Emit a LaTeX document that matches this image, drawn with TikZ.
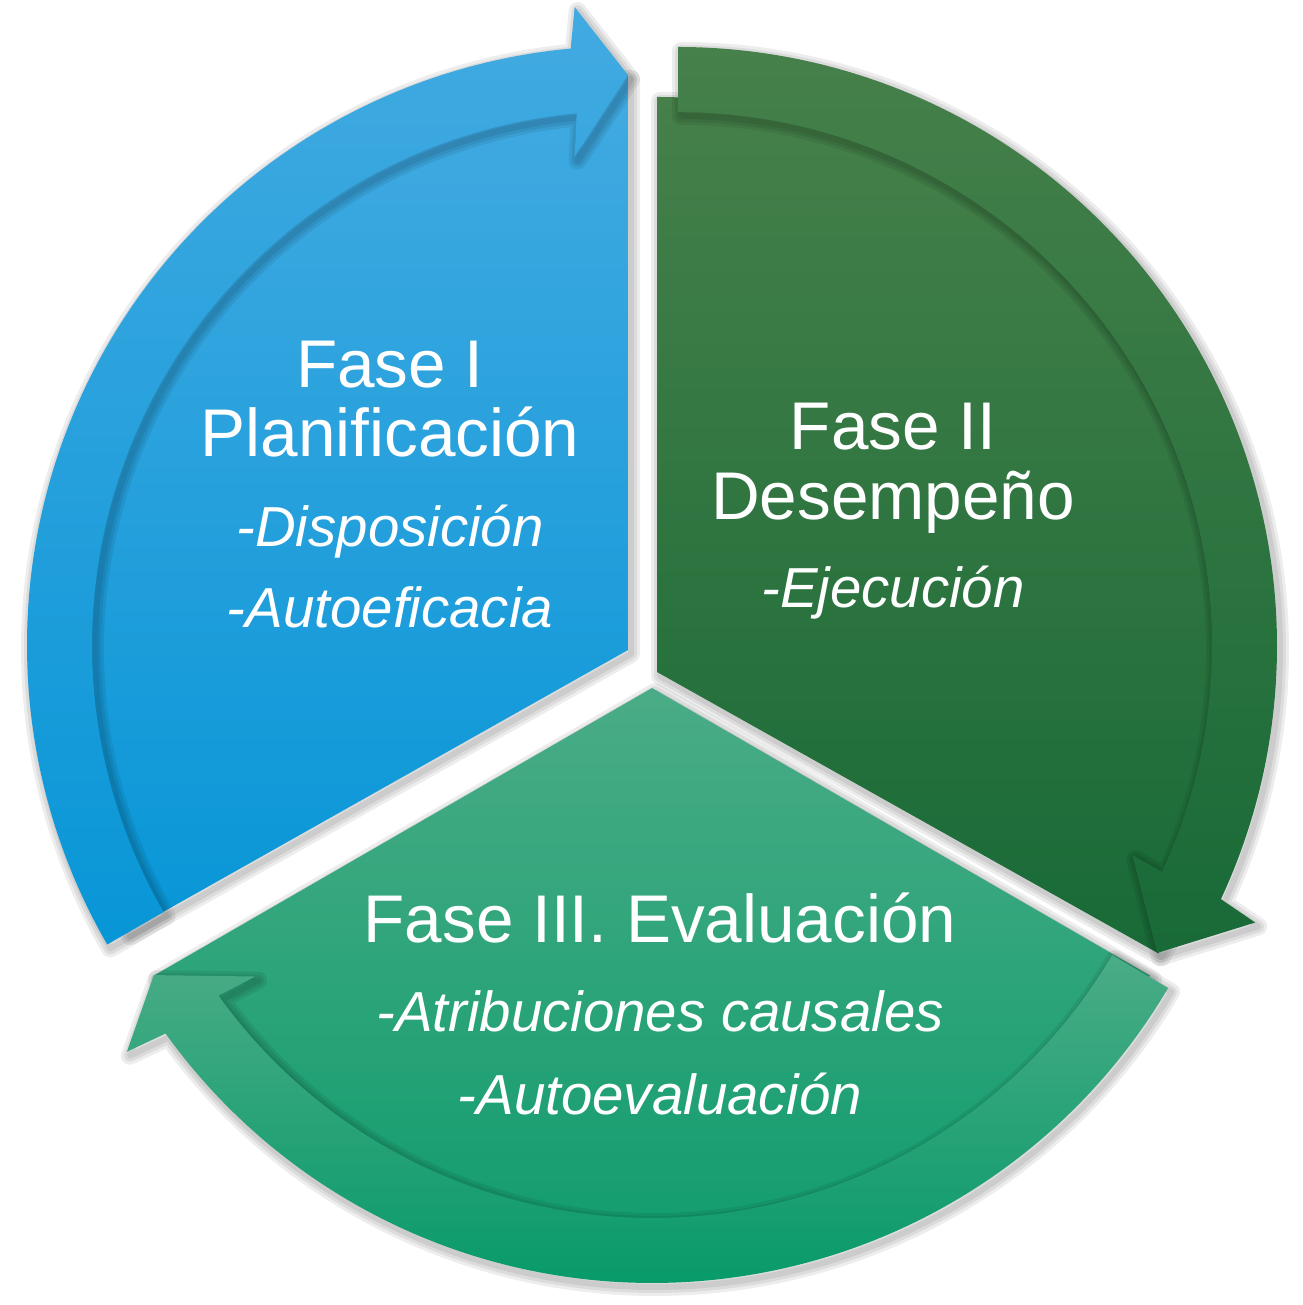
\documentclass[tikz,border=0pt]{standalone}
\usepackage{fontspec}
\setmainfont{Liberation Sans}
\definecolor{blueTop}{RGB}{66,170,225}
\definecolor{blueBot}{RGB}{8,150,215}
\definecolor{dgTop}{RGB}{70,128,74}
\definecolor{dgBot}{RGB}{24,106,55}
\definecolor{tlTop}{RGB}{74,172,134}
\definecolor{tlBot}{RGB}{8,154,106}
\begin{document}
\begin{tikzpicture}[x=0.02cm,y=0.02cm,
  ttl/.style={text=white, font=\fontsize{38.4}{46}\selectfont, inner sep=0pt, anchor=base},
  sub/.style={text=white, font=\fontsize{32.1}{38}\selectfont\itshape, inner sep=0pt, anchor=base},
  sh/.style={draw=black, draw opacity=0.07, line width=#1, line join=round}]
\useasboundingbox (0,0) rectangle (1302,1305);

% ---------- path definitions (local to each band centre) ----------
\def\BlueBody{(2,-5) -- ++(90:575) arc (90:209.4:575) -- cycle}
\def\BlueBand{(210:599) arc (210:95.3:599) -- (94.6:640) -- (89.8:570) -- (96:491) -- (95.3:534) arc (95.3:210:534) -- cycle}
\def\GreenBody{(-21,-26) -- ++(90:575) arc (90:-29.3:575) -- cycle}
\def\GreenBand{(90:599) arc (90:-25:599) -- (-25.6:640) -- (-32.65:569) -- (-24.7:500) -- (-25:534) arc (-25:90:534) -- cycle}
\def\TealBody{(0,-4) -- ++(210:575) arc (210:330:575) -- cycle}
\def\TealBand{(-30.5:599) arc (-30.5:-144.3:599) -- (-145:641) -- (-149.7:577) -- (-143.6:493) -- (-144.3:534) arc (-144.3:-30.5:534) -- cycle}

% ---------- Fase I (blue) ----------
\begin{scope}[shift={(626,660)}]
  \begin{scope}[shift={(3,-4)}]
    \foreach \lw in {0.36cm,0.24cm,0.12cm}{\path[sh=\lw] \BlueBody;}
  \end{scope}
  \shade[top color=blueTop, bottom color=blueBot] \BlueBody;
  \begin{scope}[shift={(3,-4)}]
    \foreach \lw in {0.36cm,0.24cm,0.12cm}{\path[sh=\lw] \BlueBand;}
  \end{scope}
  \shade[top color=blueTop, bottom color=blueBot] \BlueBand;
\end{scope}

% ---------- Fase II (dark green) ----------
\begin{scope}[shift={(678,659)}]
  \begin{scope}[shift={(3,-4)}]
    \foreach \lw in {0.36cm,0.24cm,0.12cm}{\path[sh=\lw] \GreenBody;}
  \end{scope}
  \shade[top color=dgTop, bottom color=dgBot] \GreenBody;
  \begin{scope}[shift={(3,-4)}]
    \foreach \lw in {0.36cm,0.24cm,0.12cm}{\path[sh=\lw] \GreenBand;}
  \end{scope}
  \shade[top color=dgTop, bottom color=dgBot] \GreenBand;
\end{scope}

% ---------- Fase III (teal green) ----------
\begin{scope}[shift={(652,621)}]
  \begin{scope}[shift={(3,-4)}]
    \foreach \lw in {0.36cm,0.24cm,0.12cm}{\path[sh=\lw] \TealBody;}
  \end{scope}
  \shade[top color=tlTop, bottom color=tlBot] \TealBody;
  \begin{scope}[shift={(3,-4)}]
    \foreach \lw in {0.36cm,0.24cm,0.12cm}{\path[sh=\lw] \TealBand;}
  \end{scope}
  \shade[top color=tlTop, bottom color=tlBot] \TealBand;
\end{scope}

% ---------- texts ----------
\node[ttl] (f1a) at (390,917) {Fase I};
\node[ttl] (f1b) at (390,848) {Planificación};
\node[sub] (f1c) at (390,758) {-Disposición};
\node[sub] (f1d) at (390,677) {-Autoeficacia};

\node[ttl] (f2a) at (893,855) {Fase II};
\node[ttl] (f2b) at (893,785) {Desempeño};
\node[sub] (f2c) at (893,697) {-Ejecución};

\node[ttl] (f3a) at (660,362) {Fase III. Evaluación};
\node[sub] (f3b) at (660,273) {-Atribuciones causales};
\node[sub] (f3c) at (660,190) {-Autoevaluación};
\end{tikzpicture}
\end{document}
